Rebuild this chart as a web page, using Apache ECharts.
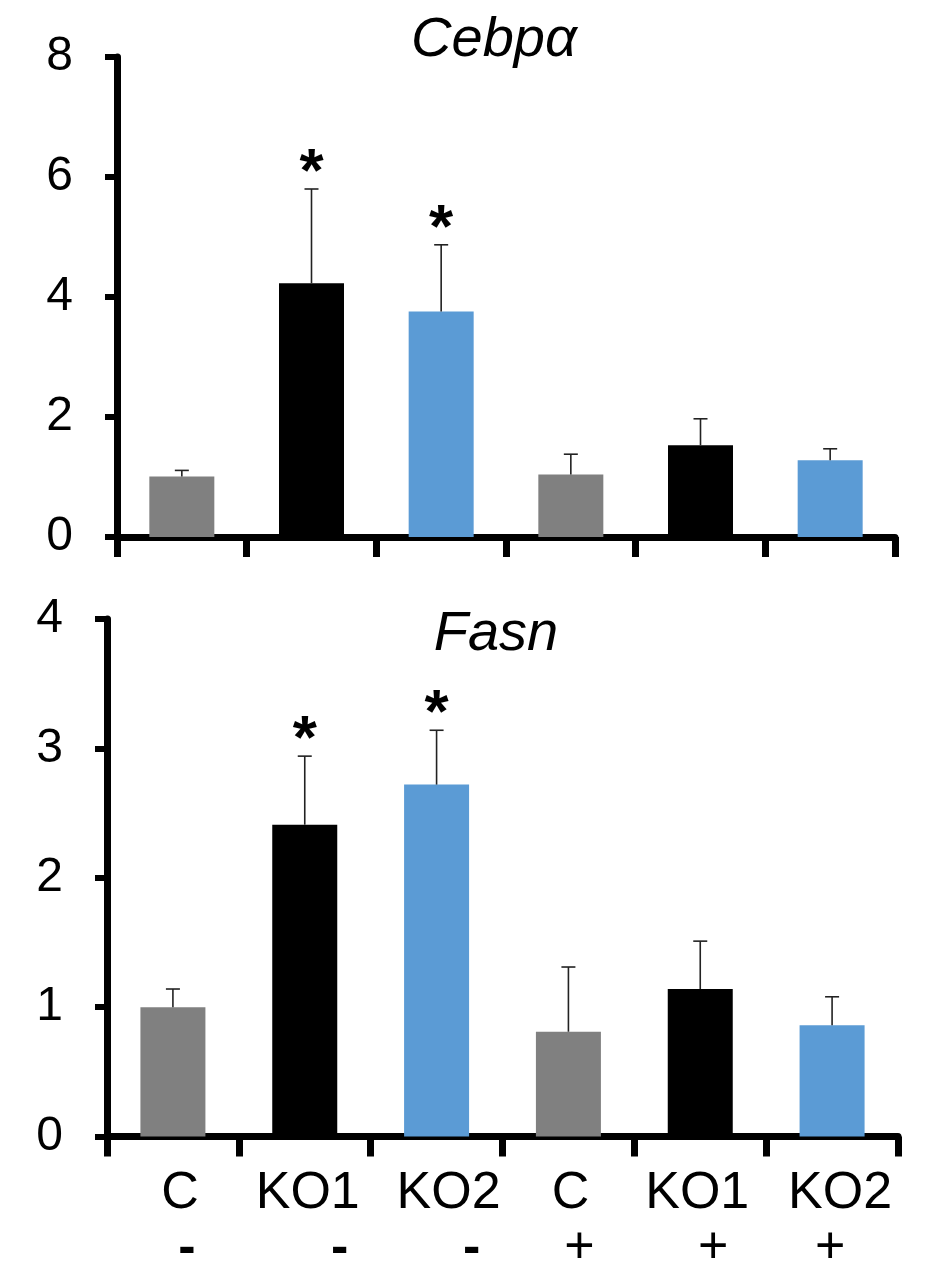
<!DOCTYPE html>
<html>
<head>
<meta charset="utf-8">
<script src="https://cdn.jsdelivr.net/npm/echarts@6/dist/echarts.min.js"></script>
<style>
html,body{margin:0;padding:0;background:#fff;}
#chart{width:928px;height:1275px;}
</style>
</head>
<body>
<div id="chart"></div>
<script>
// ---- data ----
const categories = ['C', 'KO1', 'KO2', 'C', 'KO1', 'KO2'];
const treatment = ['-', '-', '-', '+', '+', '+'];
const cebpaMean = [1.01, 4.23, 3.76, 1.04, 1.53, 1.28];
const cebpaSD   = [0.10, 1.57, 1.11, 0.34, 0.44, 0.19];
const cebpaSig  = [0, 1, 1, 0, 0, 0];
const fasnMean  = [1.00, 2.41, 2.72, 0.81, 1.14, 0.86];
const fasnSD    = [0.14, 0.53, 0.42, 0.50, 0.37, 0.22];
const fasnSig   = [0, 1, 1, 0, 0, 0];
const cebpaTicks = ['0', '2', '4', '6', '8'];
const fasnTicks  = ['0', '1', '2', '3', '4'];

// ---- styles ----
const barColors = ['#808080', '#000000', '#5B9BD5', '#808080', '#000000', '#5B9BD5'];
const FONT = 'Liberation Sans, Arial, sans-serif';
const nameShift = [7, 3, 12, 2, -3, 8];
const signShift = [14, 35, 35, 11, 13, -2];

const axisKeys = categories.map((c, i) => c + '_' + treatment[i]);

function shiftPad(dx) {
  return dx >= 0 ? [0, 0, 0, 2 * dx] : [0, -2 * dx, 0, 0];
}
const rich = {};
categories.forEach((c, i) => {
  rich['n' + i] = { fontSize: 52, lineHeight: 55, color: '#000', fontFamily: FONT, padding: shiftPad(nameShift[i]) };
  rich['s' + i] = { fontSize: 52, lineHeight: 55, color: '#000', fontFamily: FONT,
    fontWeight: treatment[i] === '-' ? 'bold' : 'normal', padding: shiftPad(signShift[i]) };
});

function errRenderer(params, api) {
  const i = api.value(0), m = api.value(1), s = api.value(2), sig = api.value(3);
  const base = api.coord([i, m]);
  const top = api.coord([i, m + s]);
  const hw = 7;
  const children = [
    { type: 'line', shape: { x1: base[0], y1: base[1], x2: top[0], y2: top[1] }, style: { stroke: '#222', lineWidth: 1.6 } },
    { type: 'line', shape: { x1: top[0] - hw, y1: top[1], x2: top[0] + hw, y2: top[1] }, style: { stroke: '#222', lineWidth: 1.6 } }
  ];
  if (sig) {
    children.push({ type: 'text', x: top[0], y: top[1] + 16, style: { text: '*', fill: '#000', font: 'bold 62px ' + FONT, textAlign: 'center', textVerticalAlign: 'bottom' } });
  }
  return { type: 'group', children };
}

function yAxis(gridIndex, ticks) {
  const iv = Number(ticks[1]) - Number(ticks[0]);
  return {
    type: 'value', gridIndex, min: Number(ticks[0]), max: Number(ticks[ticks.length - 1]), interval: iv,
    splitLine: { show: false },
    axisLine: { show: true, lineStyle: { color: '#000', width: 7 } },
    axisTick: { show: true, length: 12, lineStyle: { color: '#000', width: 6 } },
    axisLabel: { fontSize: 48, color: '#000', fontFamily: FONT, margin: 44 }
  };
}
function xAxis(gridIndex, showLabel) {
  return {
    type: 'category', gridIndex, data: axisKeys,
    axisLine: { show: true, lineStyle: { color: '#000', width: 7 } },
    axisTick: { show: true, length: 20, lineStyle: { color: '#000', width: 7 } },
    axisLabel: showLabel ? {
      show: true, interval: 0, margin: 30, rich,
      formatter: (v, idx) => '{n' + idx + '|' + categories[idx] + '}\n{s' + idx + '|' + treatment[idx] + '}'
    } : { show: false }
  };
}

const option = {
  animation: false,
  backgroundColor: '#fff',
  title: [
    { text: 'Cebpα', left: 494, top: 12, textAlign: 'center', padding: 0,
      textStyle: { fontSize: 56, fontStyle: 'italic', fontWeight: 'normal', color: '#000', fontFamily: FONT } },
    { text: 'Fasn', left: 496, top: 606, textAlign: 'center', padding: 0,
      textStyle: { fontSize: 56, fontStyle: 'italic', fontWeight: 'normal', color: '#000', fontFamily: FONT } }
  ],
  grid: [
    { left: 117, right: 33, top: 57, bottom: 1275 - 537 },
    { left: 107, right: 30, top: 619, bottom: 1275 - 1137 }
  ],
  xAxis: [xAxis(0, false), xAxis(1, true)],
  yAxis: [yAxis(0, cebpaTicks), yAxis(1, fasnTicks)],
  series: [
    { type: 'bar', xAxisIndex: 0, yAxisIndex: 0, barWidth: 65, data: cebpaMean,
      itemStyle: { color: p => barColors[p.dataIndex] } },
    { type: 'custom', xAxisIndex: 0, yAxisIndex: 0, z: 5, renderItem: errRenderer,
      data: cebpaMean.map((m, i) => [i, m, cebpaSD[i], cebpaSig[i]]) },
    { type: 'bar', xAxisIndex: 1, yAxisIndex: 1, barWidth: 65, data: fasnMean,
      itemStyle: { color: p => barColors[p.dataIndex] } },
    { type: 'custom', xAxisIndex: 1, yAxisIndex: 1, z: 5, renderItem: errRenderer,
      data: fasnMean.map((m, i) => [i, m, fasnSD[i], fasnSig[i]]) }
  ]
};
const chart = echarts.init(document.getElementById('chart'), null, { renderer: 'canvas' });
chart.setOption(option);
</script>
</body>
</html>
